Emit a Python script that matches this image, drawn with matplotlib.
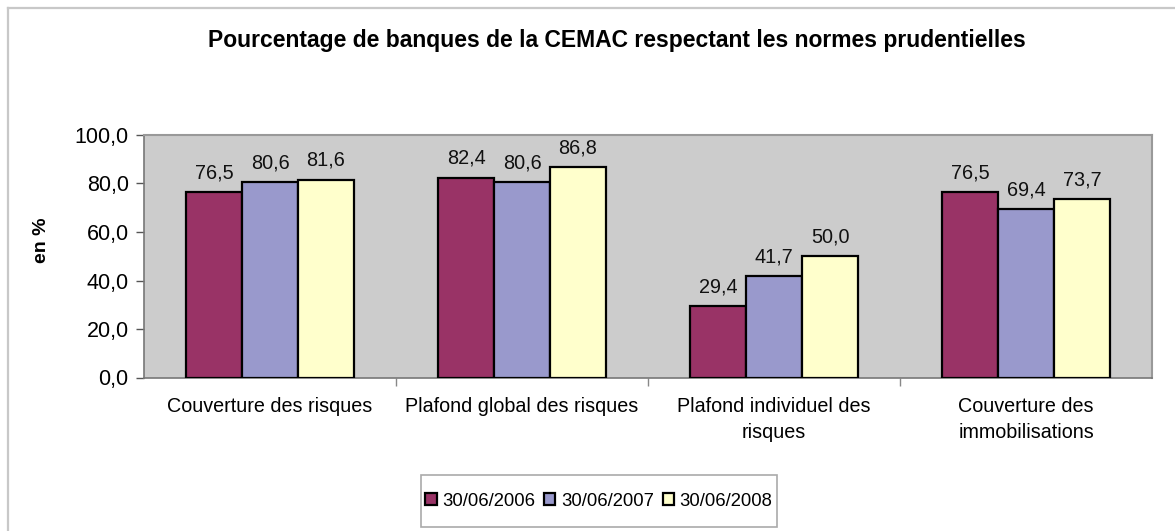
import matplotlib
matplotlib.use("Agg")
import matplotlib.pyplot as plt
import numpy as np
from matplotlib.lines import Line2D
from matplotlib.patches import Rectangle

plt.rcParams['font.family'] = ['Liberation Sans', 'DejaVu Sans']

categories = ["Couverture des risques", "Plafond global des risques",
              "Plafond individuel des\nrisques", "Couverture des\nimmobilisations"]
series_names = ["30/06/2006", "30/06/2007", "30/06/2008"]
v2006 = [76.5, 82.4, 29.4, 76.5]
v2007 = [80.6, 80.6, 41.7, 69.4]
v2008 = [81.6, 86.8, 50.0, 73.7]
yticks = [0, 20, 40, 60, 80, 100]
title = "Pourcentage de banques de la CEMAC respectant les normes prudentielles"
ylabel = "en %"

colors = ["#993366", "#9999CC", "#FFFFCC"]

W, H = 1175, 531
fig = plt.figure(figsize=(W / 100, H / 100), dpi=100)
fig.patch.set_facecolor("white")

# outer chart frame (left and top visible)
fig.add_artist(Line2D([7.5 / W, 7.5 / W], [0, 1 - 7.5 / H], transform=fig.transFigure,
                      color="#C8C8C8", lw=1.6))
fig.add_artist(Line2D([7.5 / W, 1], [1 - 7.5 / H, 1 - 7.5 / H], transform=fig.transFigure,
                      color="#C8C8C8", lw=1.6))

left, right, top, bottom = 144, 1152, 135, 377.5
ax = fig.add_axes([left / W, 1 - bottom / H, (right - left) / W, (bottom - top) / H])
ax.set_facecolor("#CCCCCC")

x = np.arange(len(categories))
bw = 2.0 / 9.0
for i, (vals, c) in enumerate(zip([v2006, v2007, v2008], colors)):
    pos = x + (i - 1) * bw
    bars = ax.bar(pos, vals, width=bw, color=c, edgecolor="black", linewidth=1.6,
                  label=series_names[i], zorder=3)
    for b, v in zip(bars, vals):
        ax.annotate(f"{v:.1f}".replace(".", ","),
                    (b.get_x() + b.get_width() / 2, v), xytext=(0, 7),
                    textcoords="offset points", ha="center", va="bottom",
                    fontsize=14.3, color="#111111")

ax.set_xlim(-0.5, len(categories) - 0.5)
ax.set_ylim(0, 100)
ax.set_yticks(yticks)
ax.set_yticklabels([f"{t:.1f}".replace(".", ",") for t in yticks], fontsize=15.5)
ax.set_xticks(x)
ax.set_xticklabels(categories, fontsize=14.2, linespacing=1.45)
ax.tick_params(axis="x", length=0, pad=14)
ax.tick_params(axis="y", length=6, width=1, color="#555555", pad=5)
ax.set_xticks(np.arange(0.5, len(categories) - 0.5, 1.0), minor=True)
ax.tick_params(axis="x", which="minor", length=6, width=1, color="#888888")

for s in ["top", "right"]:
    ax.spines[s].set_color("#999999")
    ax.spines[s].set_linewidth(1.5)
for s in ["left", "bottom"]:
    ax.spines[s].set_color("#777777")
    ax.spines[s].set_linewidth(1.2)

ax.set_ylabel(ylabel, fontsize=14, fontweight="bold")
ax.yaxis.set_label_coords((50 - left) / (right - left), (bottom - 240) / (bottom - top))

fig.text(617 / W, 1 - 40 / H, title, ha="center", va="center",
         fontsize=16.5, fontweight="bold")

leg = fig.legend(loc="center", bbox_to_anchor=(599 / W, 1 - 501 / H), ncol=3,
                 fontsize=13.3, frameon=False,
                 handlelength=0.6, handleheight=0.6, handletextpad=0.3,
                 columnspacing=0.5, borderpad=0.2, borderaxespad=0)

fig.canvas.draw()
bb = leg.get_window_extent()
padx, pady = 1, 14
fig.add_artist(Rectangle(((bb.x0 - padx) / W, (bb.y0 - pady) / H),
                         (bb.width + 2 * padx) / W, (bb.height + 2 * pady) / H,
                         transform=fig.transFigure, facecolor="none",
                         edgecolor="#AAAAAA", linewidth=1.2))

fig.savefig("out.png", dpi=100)
